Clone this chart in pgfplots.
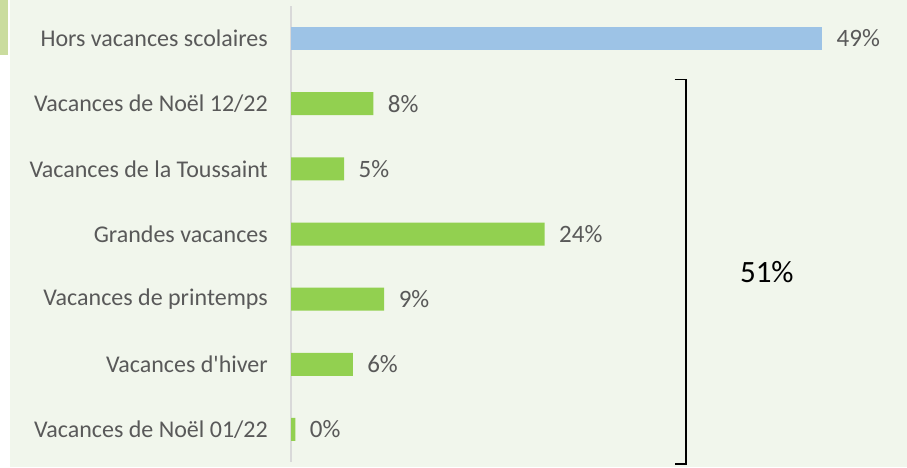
\documentclass[border=0pt]{standalone}
\usepackage{pgfplots}
\pgfplotsset{compat=1.18}
\usepackage{fontspec}
\setmainfont{Carlito}
\definecolor{panel}{HTML}{F1F6EC}
\definecolor{strip}{HTML}{CADC9E}
\definecolor{barblue}{HTML}{9DC3E6}
\definecolor{bargreen}{HTML}{92D050}
\definecolor{txt}{HTML}{595959}
\definecolor{axisgray}{HTML}{D9D9D9}

\begin{document}
\begin{tikzpicture}
\useasboundingbox (0,0) rectangle (907pt,467pt);
\fill[white] (0,0) rectangle (907pt,467pt);
\fill[panel] (10pt,0) rectangle (907pt,467pt);
\fill[strip] (0,412pt) rectangle (8pt,467pt);
\begin{axis}[
    at={(291pt,5pt)}, anchor=south west,
    scale only axis,
    width=607pt, height=456pt,
    xbar, bar width=23pt, bar shift=0pt,
    xmin=0, xmax=56,
    ymin=-0.5, ymax=6.5, y dir=reverse,
    axis x line=none, axis y line=left,
    y axis line style={-, draw=axisgray, line width=2pt},
    ytick={0,1,2,3,4,5,6},
    yticklabels={Hors vacances scolaires, Vacances de Noël 12/22, Vacances de la Toussaint, Grandes vacances, Vacances de printemps, Vacances d\textquotesingle hiver, Vacances de Noël 01/22},
    major tick length=0pt,
    yticklabel style={font=\fontsize{24}{26}\selectfont, text=txt, inner sep=0pt, xshift=-23pt},
    point meta=explicit symbolic,
    nodes near coords,
    every node near coord/.style={font=\fontsize{25}{27}\selectfont, text=txt, anchor=west, xshift=11pt},
    clip=false,
]
\addplot[fill=barblue, draw=none] coordinates {(49,0) [49\%]};
\addplot[fill=bargreen, draw=none] coordinates {
    (7.6,1) [8\%]
    (4.9,2) [5\%]
    (23.4,3) [24\%]
    (8.6,4) [9\%]
    (5.7,5) [6\%]
    (0.4,6) [0\%]
};
\draw[black, line width=1.2pt] (axis cs:35.4,0.63) -- (axis cs:36.44,0.63) -- (axis cs:36.44,6.53) -- (axis cs:35.4,6.53);
\node[font=\fontsize{31}{33}\selectfont, text=black] at (axis cs:43.9,3.59) {51\%};
\end{axis}
\end{tikzpicture}
\end{document}
